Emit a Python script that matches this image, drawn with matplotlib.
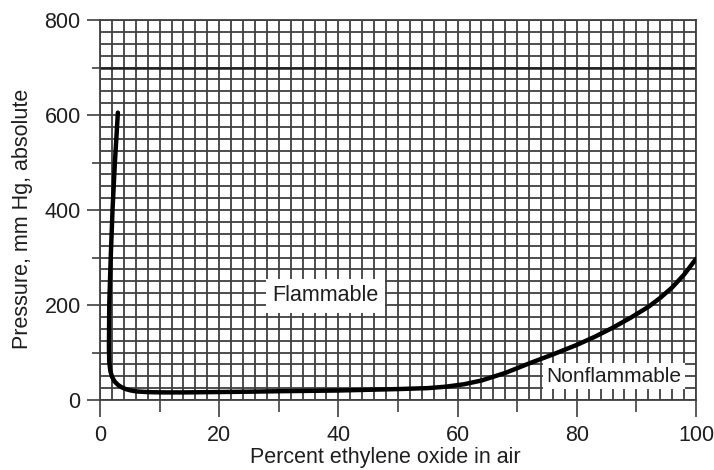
import numpy as np
import matplotlib
matplotlib.use("Agg")
import matplotlib.pyplot as plt
from matplotlib.ticker import MultipleLocator

plt.rcParams['font.family'] = ['Liberation Sans', 'DejaVu Sans']

# ---- data ----
percent_eo = [3.0, 2.5, 2.1, 1.8, 1.55, 1.5, 1.55, 1.75, 2.05, 2.45, 3.0, 3.6, 4.3, 5.2, 6.2,
              7.5, 9.0, 11, 14, 18, 25, 30, 40, 50, 55, 58, 61, 64, 68, 72, 76, 80, 83,
              86, 89, 92, 94, 96, 98, 100]
pressure = [605, 500, 400, 300, 200, 110, 80, 60, 48, 39, 32, 27, 23, 20, 18,
            17, 16.3, 16, 16, 16.5, 17.5, 18.5, 20, 23, 25, 28, 33, 41, 57, 77, 96, 116, 133,
            152, 173, 196, 215, 237, 264, 297]

x_major = [0, 20, 40, 60, 80, 100]
x_mid = [10, 30, 50, 70, 90]
y_major = [0, 200, 400, 600, 800]
y_mid = [100, 300, 500, 700]

label_flammable = "Flammable"
label_nonflammable = "Nonflammable"
xlabel = "Percent ethylene oxide in air"
ylabel = "Pressure, mm Hg, absolute"

# ---- figure ----
W, H = 714, 470
fig = plt.figure(figsize=(W / 100, H / 100), dpi=100)
ax = fig.add_axes([100 / W, 1 - 400 / H, 596 / W, 380 / H])
ax.set_xlim(0, 100)
ax.set_ylim(0, 800)

grid_col = '#404040'
txt_col = '#1e1e1e'

ax.xaxis.set_minor_locator(MultipleLocator(2))
ax.yaxis.set_minor_locator(MultipleLocator(25))
ax.grid(which='both', color=grid_col, linewidth=1.3)
ax.axhline(y_mid[-1], color='#202020', linewidth=1.8, zorder=1)
ax.set_axisbelow(True)

for sp in ax.spines.values():
    sp.set_color(grid_col)
    sp.set_linewidth(1.3)

ax.set_xticks(x_major)
ax.set_xticklabels([str(v) for v in x_major])
ax.set_yticks(y_major)
ax.set_yticklabels([str(v) for v in y_major])
ax.tick_params(which='minor', length=0)
ax.tick_params(axis='x', which='major', length=12.2, width=1.2, color=grid_col, pad=5.5,
               labelsize=15.5, labelcolor=txt_col)
ax.tick_params(axis='y', which='major', length=9.4, width=1.2, color=grid_col, pad=4.5,
               labelsize=15.5, labelcolor=txt_col)

secx = ax.secondary_xaxis('bottom')
secx.set_xticks(x_mid)
secx.set_xticklabels([''] * len(x_mid))
secx.tick_params(length=8.6, width=1.2, color=grid_col)
secx.spines['bottom'].set_visible(False)

secy = ax.secondary_yaxis('left')
secy.set_yticks(y_mid)
secy.set_yticklabels([''] * len(y_mid))
secy.tick_params(length=5.8, width=1.2, color=grid_col)
secy.spines['left'].set_visible(False)

ax.plot(percent_eo, pressure, color='black', linewidth=3.2, solid_capstyle='round',
        solid_joinstyle='round', zorder=5)

ax.text(37.8, 219, label_flammable, fontsize=15.5, color=txt_col, ha='center', va='center',
        zorder=6, bbox=dict(facecolor='white', edgecolor='none', pad=4.5))
ax.text(86.2, 50, label_nonflammable, fontsize=15, color=txt_col, ha='center', va='center',
        zorder=6, bbox=dict(facecolor='white', edgecolor='none', pad=2.5))

fig.text(385 / W, 1 - 457 / H, xlabel, fontsize=15.5, color=txt_col,
         ha='center', va='center')
fig.text(23 / W, 1 - 219 / H, ylabel, fontsize=15.5, color=txt_col,
         ha='center', va='center', rotation=90)

fig.savefig('out.png', dpi=100, facecolor='white')
